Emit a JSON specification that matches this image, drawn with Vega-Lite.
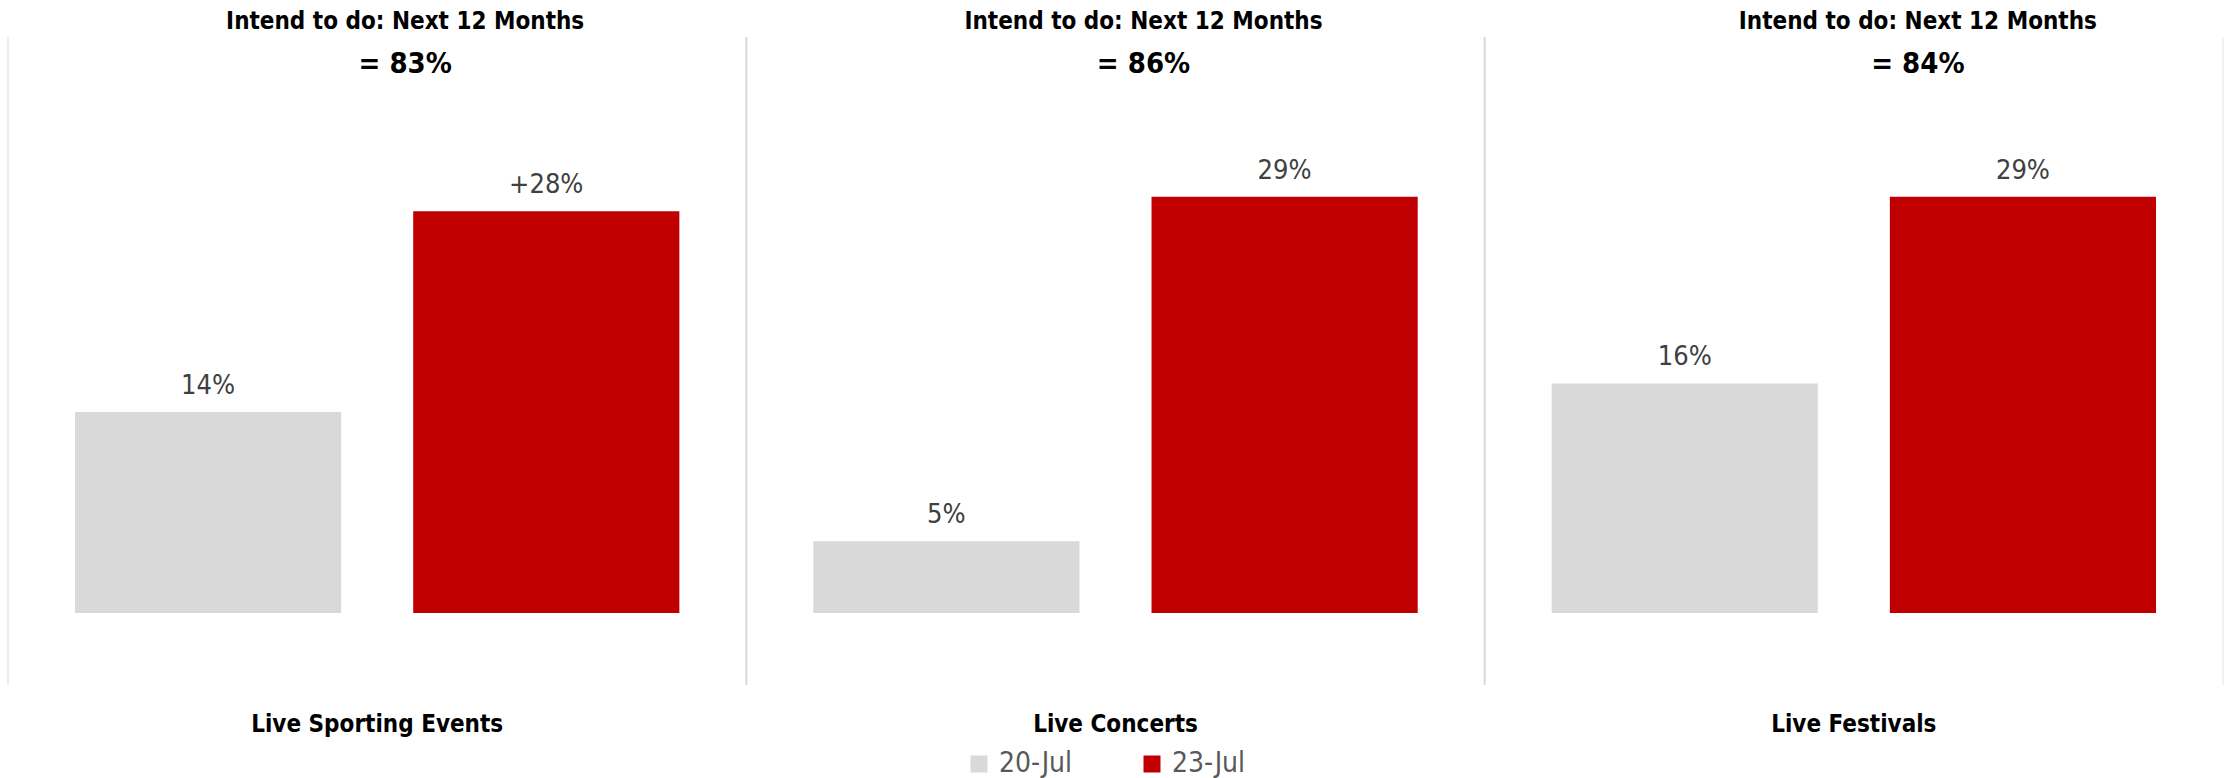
{
  "$schema": "https://vega.github.io/schema/vega-lite/v6.json",
  "width": 2215,
  "height": 648,
  "autosize": {"type": "none"},
  "padding": {"left": 8, "top": 37, "right": 8, "bottom": 93},
  "config": {
    "view": {"stroke": null},
    "font": "DejaVu Sans Condensed, sans-serif"
  },
  "datasets": {
    "bars": [
      {"category": "Live Sporting Events", "period": "20-Jul", "value": 14, "label": "14%"},
      {"category": "Live Sporting Events", "period": "23-Jul", "value": 28, "label": "+28%"},
      {"category": "Live Concerts", "period": "20-Jul", "value": 5, "label": "5%"},
      {"category": "Live Concerts", "period": "23-Jul", "value": 29, "label": "29%"},
      {"category": "Live Festivals", "period": "20-Jul", "value": 16, "label": "16%"},
      {"category": "Live Festivals", "period": "23-Jul", "value": 29, "label": "29%"}
    ],
    "headers": [
      {"category": "Live Sporting Events", "heading": "Intend to do: Next 12 Months", "total": "= 83%"},
      {"category": "Live Concerts", "heading": "Intend to do: Next 12 Months", "total": "= 86%"},
      {"category": "Live Festivals", "heading": "Intend to do:  Next 12 Months", "total": "= 84%"}
    ]
  },
  "layer": [
    {
      "data": {"name": "headers"},
      "transform": [{"filter": "datum.category !== 'Live Sporting Events'"}],
      "mark": {"type": "rule", "color": "#d9d9d9", "strokeWidth": 2},
      "encoding": {"x": {"field": "category", "type": "nominal", "bandPosition": 0}}
    },
    {
      "data": {"name": "headers"},
      "transform": [{"filter": "datum.category === 'Live Sporting Events'"}],
      "mark": {"type": "rule", "color": "#eeeeee", "strokeWidth": 2},
      "encoding": {"x": {"field": "category", "type": "nominal", "bandPosition": 0}}
    },
    {
      "data": {"name": "headers"},
      "transform": [{"filter": "datum.category === 'Live Festivals'"}],
      "mark": {"type": "rule", "color": "#f2f2f2", "strokeWidth": 2},
      "encoding": {"x": {"field": "category", "type": "nominal", "bandPosition": 1}}
    },
    {
      "data": {"name": "bars"},
      "mark": {"type": "bar"},
      "encoding": {
        "x": {
          "field": "category",
          "type": "nominal",
          "sort": null,
          "scale": {"domain": ["Live Sporting Events", "Live Concerts", "Live Festivals"], "paddingInner": 0, "paddingOuter": 0},
          "axis": {
            "title": null,
            "orient": "bottom",
            "domain": false,
            "ticks": false,
            "tickSize": 0,
            "labelAngle": 0,
            "labelAlign": "center",
            "labelLimit": 0,
            "labelPadding": 46,
            "labelBaseline": "alphabetic",
            "labelFontSize": 24,
            "labelFontWeight": "bold",
            "labelColor": "#000000",
            "labelFont": "DejaVu Sans Condensed, sans-serif"
          }
        },
        "xOffset": {
          "field": "period",
          "type": "nominal",
          "scale": {"domain": ["20-Jul", "23-Jul"], "paddingInner": 0.213, "paddingOuter": 0.198}
        },
        "y": {
          "field": "value",
          "type": "quantitative",
          "scale": {"domain": [-5.02, 40.14], "nice": false, "zero": false},
          "axis": null
        },
        "color": {
          "field": "period",
          "type": "nominal",
          "scale": {"domain": ["20-Jul", "23-Jul"], "range": ["#d9d9d9", "#c00000"]},
          "legend": {
            "title": null,
            "orient": "none",
            "direction": "horizontal",
            "legendX": 957,
            "legendY": 713,
            "padding": 0,
            "symbolType": "square",
            "symbolSize": 289,
            "symbolStrokeWidth": 0,
            "labelFontSize": 28,
            "labelColor": "#595959",
            "labelOffset": 6,
            "columnPadding": 65,
            "labelFont": "DejaVu Sans Condensed, sans-serif"
          }
        }
      }
    },
    {
      "data": {"name": "bars"},
      "mark": {"type": "text", "baseline": "alphabetic", "align": "center", "dy": -18, "fontSize": 27, "color": "#404040"},
      "encoding": {
        "x": {"field": "category", "type": "nominal"},
        "xOffset": {"field": "period", "type": "nominal"},
        "y": {"field": "value", "type": "quantitative"},
        "text": {"field": "label"}
      }
    },
    {
      "mark": {"type": "rule", "color": "#d9d9d9", "strokeWidth": 2},
      "encoding": {"y": {"datum": 0}}
    },
    {
      "data": {"name": "headers"},
      "transform": [{"filter": "datum.category !== 'Live Festivals'"}],
      "mark": {"type": "text", "baseline": "alphabetic", "align": "center", "dx": 28, "fontSize": 24, "fontWeight": "bold", "color": "#000000"},
      "encoding": {
        "x": {"field": "category", "type": "nominal"},
        "y": {"datum": 40.72},
        "text": {"field": "heading"}
      }
    },
    {
      "data": {"name": "headers"},
      "transform": [{"filter": "datum.category !== 'Live Festivals'"}],
      "mark": {"type": "text", "baseline": "alphabetic", "align": "center", "dx": 28, "fontSize": 29, "fontWeight": "bold", "color": "#000000"},
      "encoding": {
        "x": {"field": "category", "type": "nominal"},
        "y": {"datum": 37.6},
        "text": {"field": "total"}
      }
    },
    {
      "data": {"name": "headers"},
      "transform": [{"filter": "datum.category === 'Live Festivals'"}],
      "mark": {"type": "text", "baseline": "alphabetic", "align": "center", "dx": 64, "fontSize": 24, "fontWeight": "bold", "color": "#000000"},
      "encoding": {
        "x": {"field": "category", "type": "nominal"},
        "y": {"datum": 40.72},
        "text": {"field": "heading"}
      }
    },
    {
      "data": {"name": "headers"},
      "transform": [{"filter": "datum.category === 'Live Festivals'"}],
      "mark": {"type": "text", "baseline": "alphabetic", "align": "center", "dx": 64, "fontSize": 29, "fontWeight": "bold", "color": "#000000"},
      "encoding": {
        "x": {"field": "category", "type": "nominal"},
        "y": {"datum": 37.6},
        "text": {"field": "total"}
      }
    }
  ]
}
